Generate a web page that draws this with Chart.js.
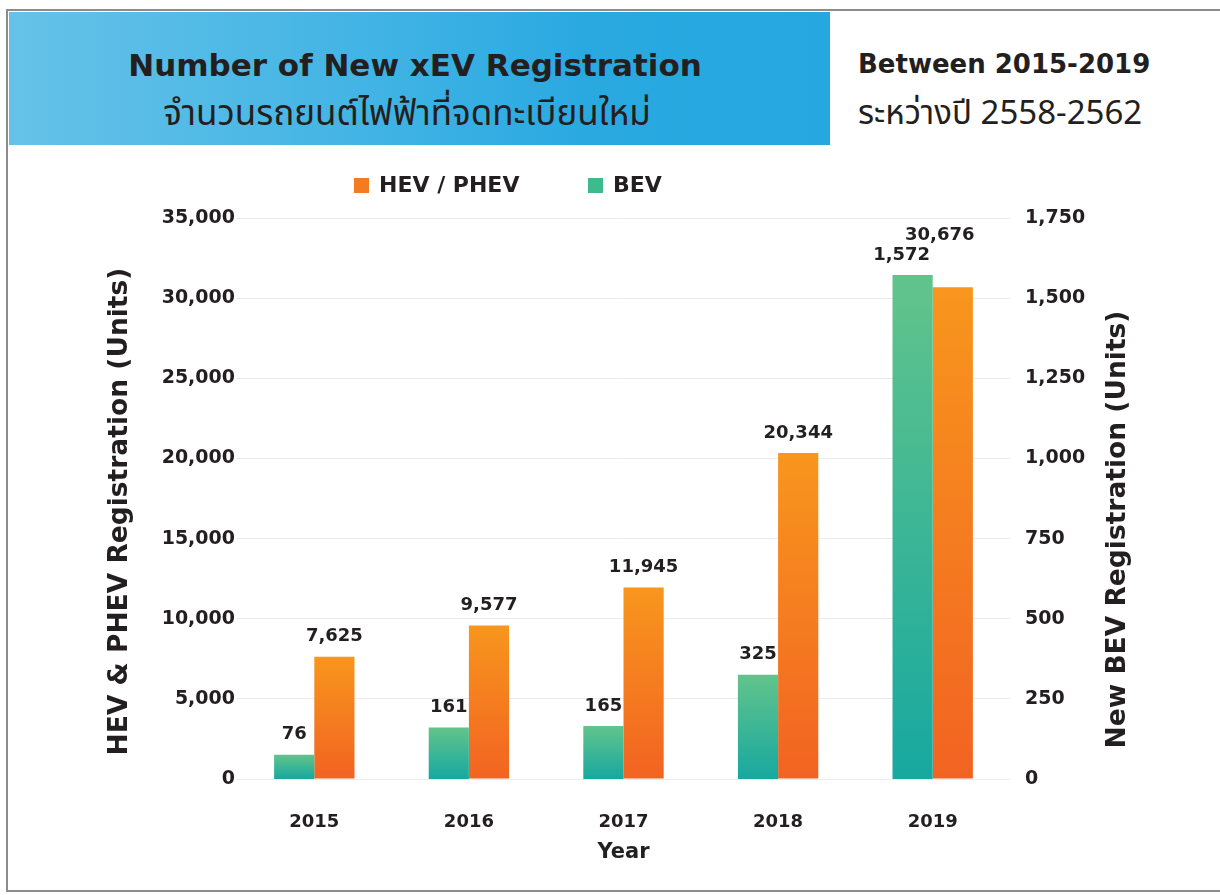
<!DOCTYPE html>
<html>
<head>
<meta charset="utf-8">
<title>Number of New xEV Registration</title>
<script src="https://cdn.jsdelivr.net/npm/chart.js@4.4.1/dist/chart.umd.min.js"></script>
<style>
  html, body { margin: 0; padding: 0; background: #fff; }
  body { width: 1220px; height: 895px; position: relative; overflow: hidden;
         font-family: 'DejaVu Sans', sans-serif; color: #231f20; }
  .frame { position: absolute; left: 6px; top: 9px; width: 1240px; height: 879px; border: 2px solid #8c8c8c; }
  .banner { position: absolute; left: 9px; top: 12px; width: 821px; height: 133px;
            background: linear-gradient(90deg, #66c2e8 0%, #45b5e5 40%, #2aa9e1 70%, #26a7df 100%); }
  .t { position: absolute; white-space: nowrap; }
  .title { left: 9px; width: 812px; top: 47px; text-align: center; font-weight: bold; font-size: 31px; line-height: 36px; }
  .thai { font-family: 'Noto Sans Thai', 'Noto Sans Thai UI', 'Noto Looped Thai', Loma, Garuda, 'Noto Sans', sans-serif; }
  .sub { left: 9px; width: 796px; top: 93px; text-align: center; font-size: 35px; line-height: 44px; }
  .between { left: 858px; top: 48px; font-weight: bold; font-size: 26px; line-height: 32px; }
  .period { left: 858px; top: 94px; font-size: 33px; line-height: 40px; }
  .chart-wrap { position: absolute; left: 0; top: 0; width: 1220px; height: 895px; }
</style>
</head>
<body>
<div class="frame"></div>
<div class="banner"></div>
<div class="t title">Number of New xEV Registration</div>
<div class="t sub thai">จำนวนรถยนต์ไฟฟ้าที่จดทะเบียนใหม่</div>
<div class="t between">Between 2015-2019</div>
<div class="t period thai">ระหว่างปี 2558-2562</div>
<div class="chart-wrap"><canvas id="evChart"></canvas></div>

<script>
// data
const years = ['2015', '2016', '2017', '2018', '2019'];
const hevPhev = [7625, 9577, 11945, 20344, 30676];
const bev = [76, 161, 165, 325, 1572];
const leftAxisMax = 35000, leftAxisStep = 5000;
const rightAxisMax = 1750, rightAxisStep = 250;
const leftAxisTitle = 'HEV & PHEV Registration (Units)';
const rightAxisTitle = 'New BEV Registration (Units)';

const INK = '#231f20';
const FONT = "'DejaVu Sans', sans-serif";
Chart.defaults.font.family = FONT;
Chart.defaults.font.weight = 'bold';
Chart.defaults.color = INK;

const fmt = v => Number(v).toLocaleString('en-US');

// vertical gradient on each bar, from its top down to zero
function barFill(top, bottom) {
  return ctx => {
    const chart = ctx.chart;
    if (!chart.chartArea || ctx.type !== 'data') return bottom;
    const scale = chart.scales[ctx.dataset.yAxisID];
    const y0 = scale.getPixelForValue(ctx.raw);
    const y1 = scale.getPixelForValue(0);
    const g = chart.ctx.createLinearGradient(0, y0, 0, y1);
    g.addColorStop(0, top);
    g.addColorStop(1, bottom);
    return g;
  };
}

// value above each bar
const valueLabels = {
  id: 'valueLabels',
  afterDatasetsDraw(chart, args, opts) {
    const c = chart.ctx;
    c.save();
    c.font = 'bold 18px ' + FONT;
    c.fillStyle = INK;
    c.textAlign = 'center';
    c.textBaseline = 'middle';
    chart.data.datasets.forEach((ds, di) => {
      chart.getDatasetMeta(di).data.forEach((bar, i) => {
        const n = (opts.nudge[i] && opts.nudge[i][di]) || [0, 0];
        c.fillText(fmt(ds.data[i]), bar.x + n[0], bar.y - opts.gap + n[1]);
      });
    });
    c.restore();
  }
};

// legend row under the banner
const topLegend = {
  id: 'topLegend',
  afterDraw(chart, args, opts) {
    const c = chart.ctx;
    c.save();
    c.font = 'bold 22px ' + FONT;
    c.textBaseline = 'middle';
    c.textAlign = 'left';
    opts.items.forEach(it => {
      const ds = chart.data.datasets[it.dataset];
      c.fillStyle = ds.legendColor;
      c.fillRect(it.x, opts.y - 7.5, 15, 15);
      c.fillStyle = INK;
      c.fillText(ds.label, it.x + 25, opts.y + 1);
    });
    c.restore();
  }
};

// both y titles read bottom-to-top, like the original
const axisTitles = {
  id: 'axisTitles',
  afterDraw(chart, args, opts) {
    const c = chart.ctx;
    const mid = (chart.chartArea.top + chart.chartArea.bottom) / 2;
    c.save();
    c.font = 'bold 26.5px ' + FONT;
    c.fillStyle = INK;
    c.textAlign = 'center';
    c.textBaseline = 'middle';
    opts.items.forEach(it => {
      const s = chart.scales[it.scale];
      const x = it.side === 'left' ? s.left + it.inset : s.right - it.inset;
      c.save();
      c.translate(x, mid + it.dy);
      c.rotate(-Math.PI / 2);
      c.fillText(it.text, 0, 0);
      c.restore();
    });
    c.restore();
  }
};

const chart = new Chart(document.getElementById('evChart'), {
  type: 'bar',
  data: {
    labels: years,
    datasets: [{
      label: 'BEV',
      data: bev,
      yAxisID: 'y1',
      legendColor: '#3dbb8f',
      backgroundColor: barFill('#62c48b', '#17a8a0')
    }, {
      label: 'HEV / PHEV',
      data: hevPhev,
      yAxisID: 'y',
      legendColor: '#f47b20',
      backgroundColor: barFill('#f8961d', '#f26322')
    }]
  },
  options: {
    responsive: true,
    maintainAspectRatio: false,
    animation: false,
    datasets: { bar: { categoryPercentage: 0.52, barPercentage: 1.0 } },
    layout: { padding: { left: 100, right: 82, top: 218, bottom: 29.4 } },
    plugins: {
      legend: { display: false },
      tooltip: { enabled: false },
      valueLabels: { gap: 20, nudge: { 4: [[-11, 0], [-13, -32]] } },
      topLegend: { y: 185.5, items: [{ dataset: 1, x: 354 }, { dataset: 0, x: 588 }] },
      axisTitles: { items: [
        { scale: 'y', side: 'left', inset: 20, dy: 13, text: leftAxisTitle },
        { scale: 'y1', side: 'right', inset: 20, dy: 31, text: rightAxisTitle }
      ] }
    },
    scales: {
      x: {
        grid: { display: false },
        border: { display: false },
        ticks: { padding: 25, font: { size: 18 }, color: INK },
        title: { display: true, text: 'Year', font: { size: 21 }, color: INK, padding: { top: 0, bottom: 0 } },
        afterFit: s => { s.height = 86.6; }
      },
      y: {
        position: 'left',
        min: 0,
        max: leftAxisMax,
        ticks: { stepSize: leftAxisStep, padding: 2, font: { size: 19 }, color: INK, callback: fmt },
        grid: { color: '#ececec', drawTicks: false },
        border: { display: false },
        afterFit: s => { s.width = 137; }
      },
      y1: {
        position: 'right',
        min: 0,
        max: rightAxisMax,
        ticks: { stepSize: rightAxisStep, padding: 7, font: { size: 19 }, color: INK, callback: fmt },
        grid: { display: false },
        border: { display: false },
        afterFit: s => { s.width = 128; }
      }
    }
  },
  plugins: [valueLabels, topLegend, axisTitles]
});
</script>
</body>
</html>
